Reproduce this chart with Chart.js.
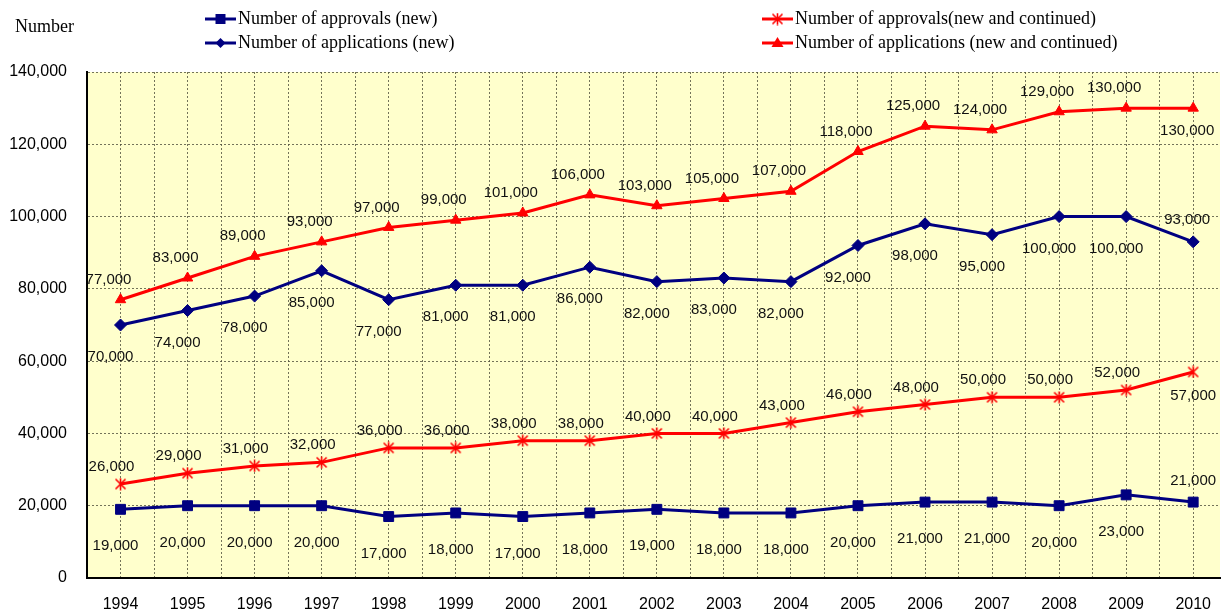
<!DOCTYPE html>
<html>
<head>
<meta charset="utf-8">
<script src="https://cdn.jsdelivr.net/npm/chart.js@4/dist/chart.umd.min.js"></script>
<style>
  html, body { margin: 0; padding: 0; background: #fff; overflow: hidden; }
  #wrap { position: relative; width: 1228px; height: 615px; }
</style>
</head>
<body>
<div id="wrap"><canvas id="c" width="1228" height="615"></canvas></div>
<script>
// 연도별 승인/신청 건수 (4개 시리즈)
const years = [1994, 1995, 1996, 1997, 1998, 1999, 2000, 2001, 2002,
  2003, 2004, 2005, 2006, 2007, 2008, 2009, 2010];
const approvalsNew = [19000, 20000, 20000, 20000, 17000, 18000, 17000, 18000, 19000,
  18000, 18000, 20000, 21000, 21000, 20000, 23000, 21000];
const applicationsNew = [70000, 74000, 78000, 85000, 77000, 81000, 81000, 86000, 82000,
  83000, 82000, 92000, 98000, 95000, 100000, 100000, 93000];
const approvalsAll = [26000, 29000, 31000, 32000, 36000, 36000, 38000, 38000, 40000,
  40000, 43000, 46000, 48000, 50000, 50000, 52000, 57000];
const applicationsAll = [77000, 83000, 89000, 93000, 97000, 99000, 101000, 106000, 103000,
  105000, 107000, 118000, 125000, 124000, 129000, 130000, 130000];
const yTicks = [0, 20000, 40000, 60000, 80000, 100000, 120000, 140000];

const NAVY = '#000080';
const RED = '#FF0000';
const SANS = '"Liberation Sans", Arial, sans-serif';
const SERIF = '"Liberation Serif", "DejaVu Serif", serif';
const GRID = 'rgba(80,80,60,0.8)';
const X_MIN = 1993.5;
const X_MAX = 2010.4; // 원본은 플롯 영역이 화면 오른쪽 밖까지 이어져 잘려 있음

const fmt = (v) => v.toLocaleString('en-US');
const pts = (arr) => arr.map((v, i) => ({ x: years[i], y: v }));

// 엑셀식 별 마커 (X + 세로선)
function starMarker(size, color) {
  const cv = document.createElement('canvas');
  cv.width = size; cv.height = size;
  const g = cv.getContext('2d');
  g.strokeStyle = color;
  g.lineWidth = 1.6;
  const m = 1.5, s = size - 1.5;
  g.beginPath();
  g.moveTo(m, m); g.lineTo(s, s);
  g.moveTo(s, m); g.lineTo(m, s);
  g.moveTo(size / 2, 0.5); g.lineTo(size / 2, size - 0.5);
  g.stroke();
  return cv;
}
const STAR = starMarker(13, RED);

// 시리즈별 라벨 위치: 기본 오프셋, 마지막 점만 반대쪽
const series = [
  { label: 'Number of approvals (new)', data: approvalsNew, color: NAVY, style: 'rect', radius: 7,
    lbl: { dx: -5, dy: 37 }, last: { dx: 0, dy: -21 } },
  { label: 'Number of applications (new)', data: applicationsNew, color: NAVY, style: 'rectRot', radius: 6,
    lbl: { dx: -10, dy: 32 }, last: { dx: -6, dy: -22 } },
  { label: 'Number of approvals(new and continued)', data: approvalsAll, color: RED, style: STAR, radius: 6,
    lbl: { dx: -9, dy: -17 }, last: { dx: 0, dy: 24 } },
  { label: 'Number of applications (new and continued)', data: applicationsAll, color: RED, style: 'triangle', radius: 6,
    lbl: { dx: -12, dy: -20 }, last: { dx: -6, dy: 23 } },
];

const plotBg = {
  id: 'plotBg',
  beforeDraw(chart) {
    const { ctx, chartArea: a } = chart;
    ctx.save();
    ctx.fillStyle = '#FFFFCC';
    ctx.fillRect(a.left, a.top, a.right - a.left, a.bottom - a.top);
    ctx.restore();
  },
};

const pointLabels = {
  id: 'pointLabels',
  afterDatasetsDraw(chart) {
    const ctx = chart.ctx;
    ctx.save();
    ctx.font = `15px ${SANS}`;
    ctx.fillStyle = '#111';
    ctx.textAlign = 'center';
    ctx.textBaseline = 'middle';
    series.forEach((s, di) => {
      const meta = chart.getDatasetMeta(di);
      meta.data.forEach((el, i) => {
        const o = i === s.data.length - 1 ? s.last : s.lbl;
        ctx.fillText(fmt(s.data[i]), el.x + o.dx, el.y + o.dy);
      });
    });
    ctx.restore();
  },
};

function drawMarker(ctx, s, x, y) {
  ctx.fillStyle = s.color;
  if (s.style === STAR) { ctx.drawImage(STAR, x - 6.5, y - 6.5); return; }
  ctx.beginPath();
  if (s.style === 'rect') {
    ctx.rect(x - 5, y - 5, 10, 10);
  } else if (s.style === 'rectRot') {
    ctx.moveTo(x, y - 5); ctx.lineTo(x + 5, y); ctx.lineTo(x, y + 5); ctx.lineTo(x - 5, y);
  } else {
    ctx.moveTo(x, y - 6); ctx.lineTo(x + 6, y + 4); ctx.lineTo(x - 6, y + 4);
  }
  ctx.closePath();
  ctx.fill();
}

// 2열 범례 + 좌상단 "Number"
const legendBox = {
  id: 'legendBox',
  afterDraw(chart) {
    const ctx = chart.ctx;
    ctx.save();
    ctx.font = `18px ${SERIF}`;
    ctx.fillStyle = '#000';
    ctx.textBaseline = 'middle';
    ctx.fillText('Number', 15, 27);

    const cols = [205, 762];
    const rows = [19, 43];
    series.forEach((s, i) => {
      const x = cols[Math.floor(i / 2)];
      const y = rows[i % 2];
      ctx.strokeStyle = s.color;
      ctx.lineWidth = 3;
      ctx.beginPath();
      ctx.moveTo(x, y); ctx.lineTo(x + 31, y);
      ctx.stroke();
      drawMarker(ctx, s, x + 15.5, y);
      ctx.fillStyle = '#000';
      ctx.fillText(s.label, x + 33, y);
    });
    ctx.restore();
  },
};

new Chart(document.getElementById('c'), {
  type: 'line',
  data: {
    datasets: series.map((s) => ({
      label: s.label,
      data: pts(s.data),
      borderColor: s.color,
      backgroundColor: s.color,
      borderWidth: 3,
      pointStyle: s.style,
      pointRadius: s.radius,
      pointBorderWidth: 1,
      pointBorderColor: s.color,
      pointBackgroundColor: s.color,
      tension: 0,
      clip: false,
    })),
  },
  options: {
    responsive: false,
    animation: false,
    layout: { padding: { top: 72, right: 0, left: 0, bottom: 0 } },
    plugins: { legend: { display: false }, tooltip: { enabled: false } },
    scales: {
      x: {
        type: 'linear',
        min: X_MIN,
        max: X_MAX,
        // 연도 중심선과 연도 경계선 모두에 격자
        afterBuildTicks: (s) => {
          s.ticks = years.flatMap((y) => [{ value: y - 0.5 }, { value: y }]);
        },
        ticks: {
          autoSkip: false,
          maxRotation: 0,
          // ticks.padding은 좌우 여백 계산에도 쓰이므로 0, 라벨 간격은 투명 눈금 길이로
          padding: 0,
          color: '#000',
          font: { family: SANS, size: 16 },
          callback: (v) => (Number.isInteger(v) ? String(v) : ''),
        },
        grid: { color: GRID, drawTicks: true, tickLength: 17, tickColor: 'rgba(0,0,0,0)' },
        border: { color: '#000', width: 2, dash: [2, 2] },
        afterFit: (s) => { s.height = 37; },
      },
      y: {
        min: 0,
        max: 140000,
        afterBuildTicks: (s) => { s.ticks = yTicks.map((v) => ({ value: v })); },
        ticks: {
          padding: 20,
          color: '#000',
          font: { family: SANS, size: 16 },
          callback: (v) => fmt(v),
        },
        grid: { color: GRID, drawTicks: false },
        border: { color: '#000', width: 2, dash: [2, 2] },
        afterFit: (s) => { s.width = 87; },
      },
    },
  },
  plugins: [plotBg, pointLabels, legendBox],
});
</script>
</body>
</html>
